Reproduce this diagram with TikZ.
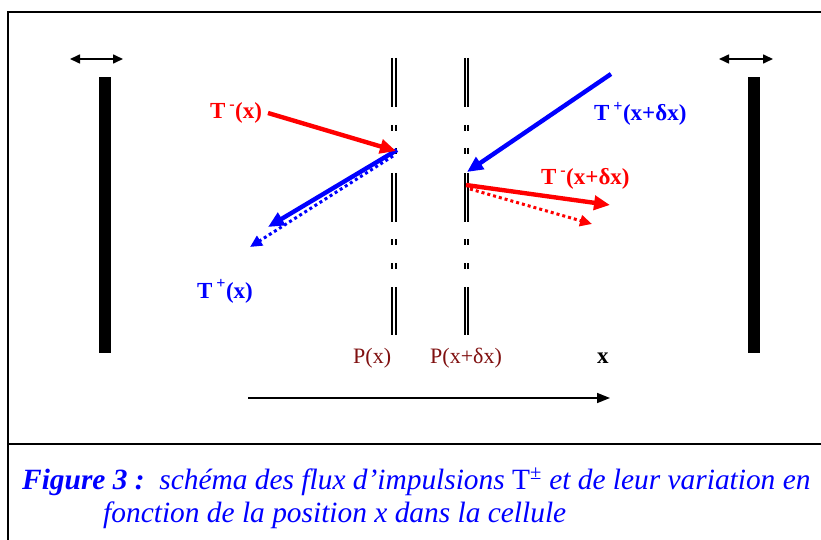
\documentclass[tikz,border=0pt]{standalone}
\usepackage{fontspec}
\setmainfont{Liberation Serif}
\usetikzlibrary{arrows.meta}
\definecolor{pblue}{RGB}{0,0,255}
\definecolor{pred}{RGB}{255,0,0}
\definecolor{pmaroon}{RGB}{128,16,16}
\begin{document}
\begin{tikzpicture}[x=1pt,y=-1pt,
  frame/.style={line width=2.2pt},
  wall/.style={fill=black,draw=none},
  jiggle/.style={line width=1.6pt,{Triangle[length=10pt,width=9pt]}-{Triangle[length=10pt,width=9pt]}},
  flux/.style={line width=4.4pt,-{Triangle[length=16pt,width=14pt]}},
  fluxdot/.style={line width=3pt,dash pattern=on 3pt off 3pt,-{Triangle[length=12pt,width=11pt]}},
  lbl/.style={font=\fontsize{23}{25}\selectfont\bfseries,inner sep=0pt,anchor=base west},
  plbl/.style={font=\fontsize{22}{24}\selectfont,text=pmaroon,inner sep=0pt,anchor=base west},
  captext/.style={font=\fontsize{29.4}{33}\selectfont\itshape,text=pblue,inner sep=0pt,anchor=base west},
  axis/.style={line width=1.6pt,-{Triangle[length=13pt,width=10pt]}},
  part/.style={line width=2.2pt}
]
\useasboundingbox (0,0) rectangle (821,540);
\fill[white] (0,0) rectangle (821,540);
% frame
\draw[frame] (8,540) -- (8,12) -- (822,12);
\draw[frame] (8,444) -- (822,444);
% walls
\fill[wall] (99,77) rectangle (111,353);
\fill[wall] (748,77) rectangle (760,353);
\coordinate (la) at (70,59); \coordinate (lb) at (123,59);
\coordinate (ra) at (719,59); \coordinate (rb) at (773,59);
\draw[jiggle] (la) -- (lb);
\draw[jiggle] (ra) -- (rb);
% partitions
\foreach \xx in {392.2,395.9,464.6,468.3}{
  \foreach \ya/\yb in {58/107,125/131,148/154,173/222,239/245,263/269,287/335}{
    \draw[part] (\xx,\ya) -- (\xx,\yb);
  }
}
% flux arrows
\coordinate (a1s) at (268,113); \coordinate (a1e) at (396,151);
\coordinate (b1s) at (397,150); \coordinate (b1e) at (268,227);
\coordinate (b1ds) at (393,156); \coordinate (b1de) at (250,247);
\coordinate (b2s) at (611,74); \coordinate (b2e) at (467,172);
\coordinate (a2s) at (466,185); \coordinate (a2e) at (610,205);
\coordinate (a2ds) at (470,189); \coordinate (a2de) at (592,224);
\draw[fluxdot,pblue] (b1ds) -- (b1de);
\draw[flux,pblue] (b1s) -- (b1e);
\draw[flux,pred] (a1s) -- (a1e);
\draw[flux,pblue] (b2s) -- (b2e);
\draw[fluxdot,pred] (a2ds) -- (a2de);
\draw[flux,pred] (a2s) -- (a2e);
% labels
\node[lbl,text=pred] (tmx) at (210,119) {T\,\textsuperscript{-}(x)};
\node[lbl,text=pblue] (tpx) at (197,298) {T\,\textsuperscript{+}(x)};
\node[lbl,text=pblue] (tpxd) at (594,121) {T\,\textsuperscript{+}(x+δx)};
\node[lbl,text=pred] (tmxd) at (541,185) {T\,\textsuperscript{-}(x+δx)};
\node[plbl] (px) at (353,363) {P(x)};
\node[plbl] (pxd) at (430,363) {P(x+δx)};
\node[lbl,text=black] (xl) at (597,363) {x};
% axis
\coordinate (xa) at (248,398); \coordinate (xb) at (610,398);
\draw[axis] (xa) -- (xb);
% caption
\node[captext] (cap1) at (22,489) {\textbf{Figure 3 :}\ \ schéma des flux d’impulsions \textup{T\textsuperscript{±}} et de leur variation en};
\node[captext] (cap2) at (103,522) {fonction de la position x dans la cellule};
\end{tikzpicture}
\end{document}
